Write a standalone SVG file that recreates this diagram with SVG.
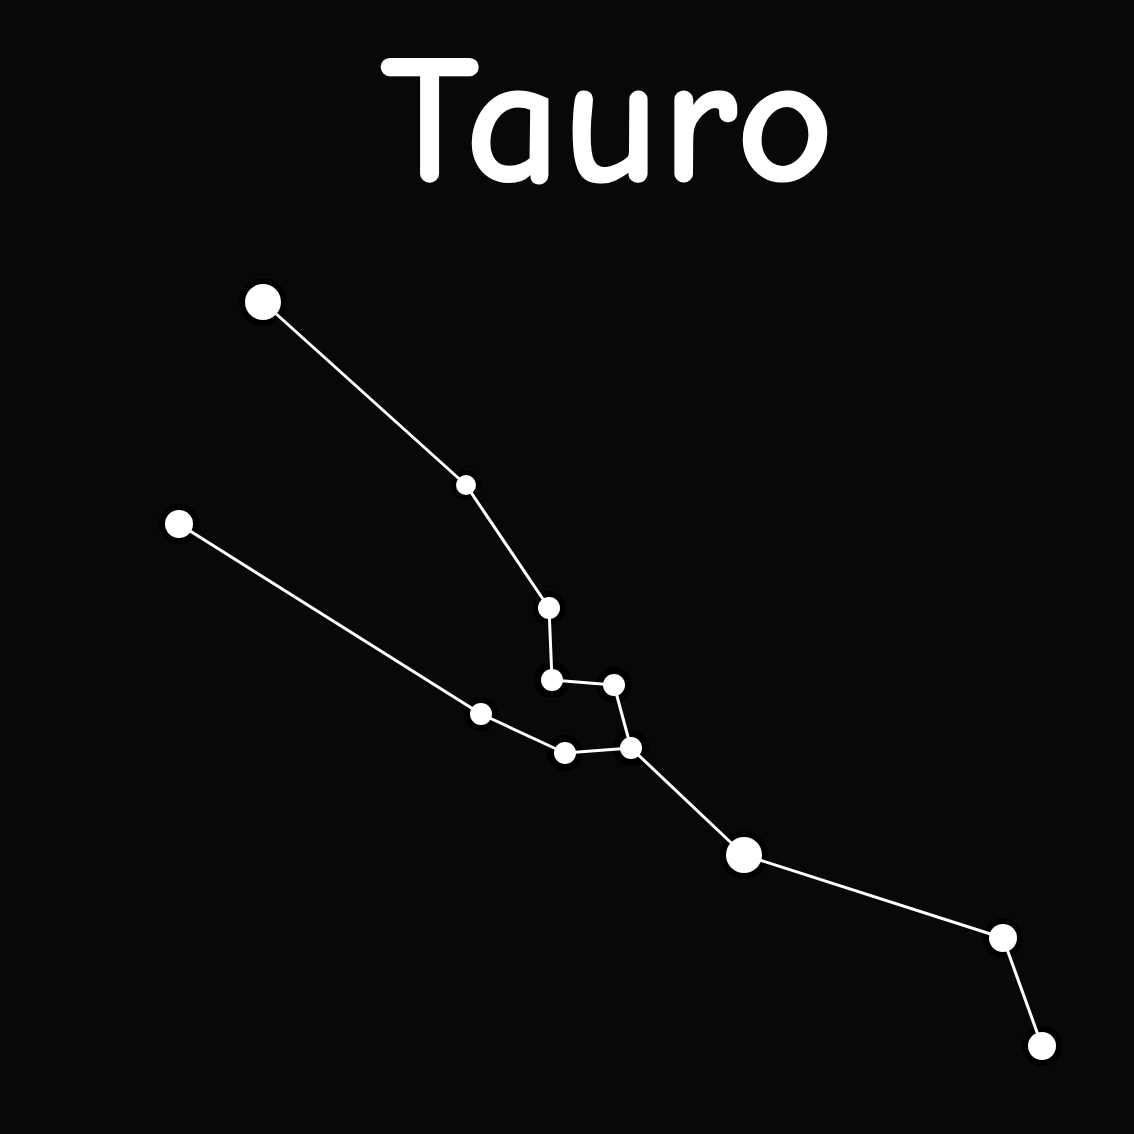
<svg xmlns="http://www.w3.org/2000/svg" width="1134" height="1134" viewBox="0 0 1134 1134">
<style>
.title{font-family:"Comic Sans MS","Comic Neue","Noto Sans",sans-serif;font-size:185px;font-weight:bold;fill:#fff;}
.link{stroke:#fff;stroke-width:3;fill:none;stroke-linecap:round;}
.halo{fill:#000;}
.star{fill:#fff;}
</style>
<rect width="1134" height="1134" fill="#080808"/>
<text class="title" x="607" y="181" text-anchor="middle" textLength="455" lengthAdjust="spacingAndGlyphs">Tauro</text>
<g id="halos">
<circle class="halo" cx="263" cy="302" r="24"/>
<circle class="halo" cx="466" cy="485" r="15"/>
<circle class="halo" cx="549" cy="608" r="17"/>
<circle class="halo" cx="552" cy="680" r="18"/>
<circle class="halo" cx="614" cy="685" r="18"/>
<circle class="halo" cx="631" cy="748" r="18"/>
<circle class="halo" cx="565" cy="753" r="18"/>
<circle class="halo" cx="481" cy="714" r="17"/>
<circle class="halo" cx="179" cy="524" r="20"/>
<circle class="halo" cx="744" cy="855" r="24"/>
<circle class="halo" cx="1003" cy="938" r="20"/>
<circle class="halo" cx="1042" cy="1046" r="20"/>
</g>
<g id="connectors">
<line class="link" x1="263" y1="302" x2="466" y2="485"/>
<line class="link" x1="466" y1="485" x2="549" y2="608"/>
<line class="link" x1="549" y1="608" x2="552" y2="680"/>
<line class="link" x1="552" y1="680" x2="614" y2="685"/>
<line class="link" x1="614" y1="685" x2="631" y2="748"/>
<line class="link" x1="631" y1="748" x2="565" y2="753"/>
<line class="link" x1="565" y1="753" x2="481" y2="714"/>
<line class="link" x1="481" y1="714" x2="179" y2="524"/>
<line class="link" x1="631" y1="748" x2="744" y2="855"/>
<line class="link" x1="744" y1="855" x2="1003" y2="938"/>
<line class="link" x1="1003" y1="938" x2="1042" y2="1046"/>
</g>
<g id="star1"><circle class="star" cx="263" cy="302" r="18"/></g>
<g id="star2"><circle class="star" cx="466" cy="485" r="10"/></g>
<g id="star3"><circle class="star" cx="549" cy="608" r="11"/></g>
<g id="star4"><circle class="star" cx="552" cy="680" r="11"/></g>
<g id="star5"><circle class="star" cx="614" cy="685" r="11"/></g>
<g id="star6"><circle class="star" cx="631" cy="748" r="11"/></g>
<g id="star7"><circle class="star" cx="565" cy="753" r="11"/></g>
<g id="star8"><circle class="star" cx="481" cy="714" r="11"/></g>
<g id="star9"><circle class="star" cx="179" cy="524" r="14"/></g>
<g id="star10"><circle class="star" cx="744" cy="855" r="18"/></g>
<g id="star11"><circle class="star" cx="1003" cy="938" r="14"/></g>
<g id="star12"><circle class="star" cx="1042" cy="1046" r="14"/></g>
</svg>
